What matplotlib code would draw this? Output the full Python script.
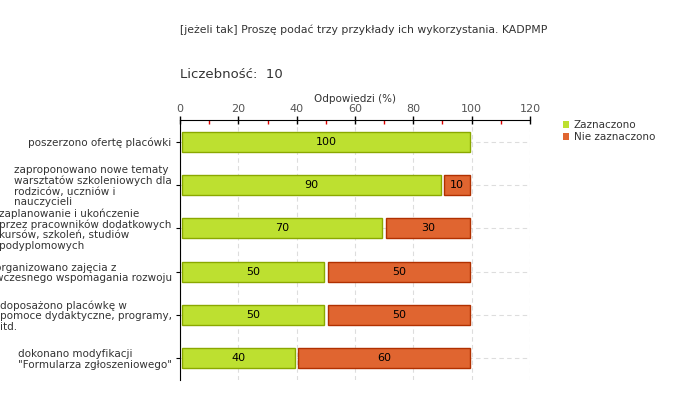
import numpy as np
import matplotlib.pyplot as plt
from matplotlib.ticker import MultipleLocator
from matplotlib.patches import Patch

categories = [
    'poszerzono ofertę placówki',
    'zaproponowano nowe tematy\nwarsztatów szkoleniowych dla\nrodziców, uczniów i\nnauczycieli',
    'zaplanowanie i ukończenie\nprzez pracowników dodatkowych\nkursów, szkoleń, studiów\npodyplomowych',
    'organizowano zajęcia z\nwczesnego wspomagania rozwoju',
    'doposażono placówkę w\npomoce dydaktyczne, programy,\nitd.',
    'dokonano modyfikacji\n"Formularza zgłoszeniowego"',
]
zaznaczono = [100, 90, 70, 50, 50, 40]
nie_zaznaczono = [0, 10, 30, 50, 50, 60]
series_names = ['Zaznaczono', 'Nie zaznaczono']

plt.rcParams['font.family'] = ['DejaVu Sans']
green, green_edge = '#bde030', '#8aa800'
orange, orange_edge = '#e06530', '#b03000'
text_col = '#333333'

fig = plt.figure(figsize=(6.8, 4), dpi=100)
ax = fig.add_axes([180 / 680, 1 - 380 / 400, 350 / 680, 260 / 400])

y = np.arange(len(categories))
h = 0.46
gap = 0.6
for i in y:
    z, n = zaznaczono[i], nie_zaznaczono[i]
    if z > 0:
        ax.barh(i, z - gap * 2, left=gap, height=h, color=green, edgecolor=green_edge, linewidth=1, zorder=3)
        ax.text(z / 2, i, str(z), ha='center', va='center', fontsize=8, color='black', zorder=4)
    if n > 0:
        ax.barh(i, n - gap * 2, left=z + gap, height=h, color=orange, edgecolor=orange_edge, linewidth=1, zorder=3)
        ax.text(z + n / 2, i, str(n), ha='center', va='center', fontsize=8, color='black', zorder=4)

ax.set_xlim(0, 120)
ax.set_ylim(len(categories) - 0.5, -0.5)
ax.xaxis.tick_top()
ax.xaxis.set_label_position('top')
ax.xaxis.set_major_locator(MultipleLocator(20))
ax.xaxis.set_minor_locator(MultipleLocator(10))
ax.tick_params(axis='x', which='major', direction='inout', length=6, width=1, colors='black',
               labelcolor='#555555', labelsize=8, pad=1)
ax.tick_params(axis='x', which='minor', direction='in', length=3, width=1, colors='#dd0000')
ax.set_xlabel('Odpowiedzi (%)', fontsize=7.5, color=text_col, labelpad=2)

ax.set_yticks(y)
ax.set_yticklabels(categories, fontsize=7.5, color=text_col, linespacing=1.05, multialignment='left')
ax.tick_params(axis='y', direction='out', length=3, colors='black', labelcolor=text_col, pad=3)

ax.grid(True, axis='both', which='major', linestyle=(0, (4, 3)), color='#dddddd', linewidth=0.8, zorder=0)
ax.set_axisbelow(True)
for s in ['right', 'bottom']:
    ax.spines[s].set_visible(False)
ax.spines['top'].set_color('black')
ax.spines['left'].set_color('black')

fig.text(180 / 680, 1 - 30 / 400, '[jeżeli tak] Proszę podać trzy przykłady ich wykorzystania. KADPMP',
         fontsize=7.8, color=text_col, va='center')
fig.text(180 / 680, 1 - 75 / 400, 'Liczebność:  10', fontsize=9.5, color=text_col, va='center')

handles = [Patch(facecolor=green, edgecolor='none'), Patch(facecolor=orange, edgecolor='none')]
fig.legend(handles, series_names, loc='upper left', bbox_to_anchor=(558 / 680, 1 - 115 / 400),
           frameon=False, fontsize=7.5, handlelength=0.6, handleheight=0.6, handletextpad=0.4,
           labelspacing=0.2, borderpad=0, labelcolor=text_col)

fig.savefig('out.png', dpi=100)
